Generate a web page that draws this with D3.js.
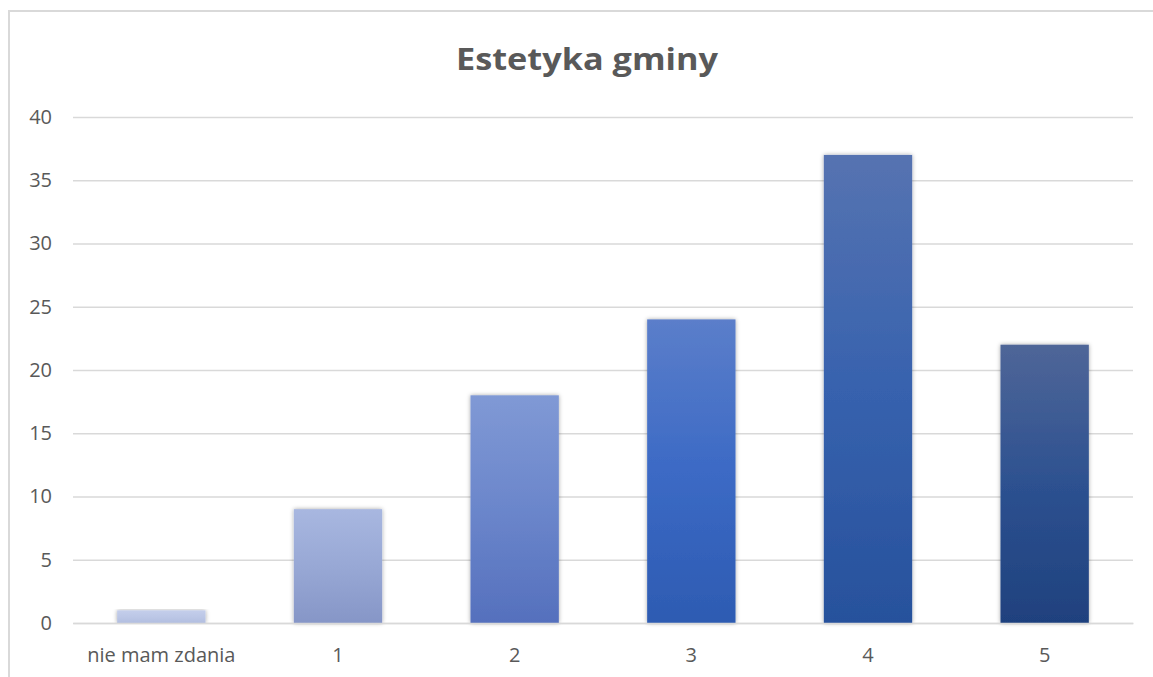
<!DOCTYPE html>
<html><head><meta charset="utf-8">
<script src="https://cdn.jsdelivr.net/npm/d3@7"></script>
<style>body{margin:0;background:#fff}svg{display:block}</style>
</head><body>
<script>
const categories = ["nie mam zdania", "1", "2", "3", "4", "5"];
const values = [1, 9, 18, 24, 37, 22];
const yTicks = [0, 5, 10, 15, 20, 25, 30, 35, 40];
const title = "Estetyka gminy";
const gradTop = ["#c4ceeb", "#a8b7e0", "#8099d5", "#5b7eca", "#5673b1", "#4f6698"];
const gradMid = ["#bcc7e6", "#98a8d5", "#6b86cb", "#3c6ac5", "#3762ae", "#2d5190"];
const gradBot = ["#b2bee0", "#8696c7", "#5570bd", "#2d5bb2", "#27519c", "#1f417e"];

const W = 1153, H = 677;
const svg = d3.select("body").append("svg").attr("width", W).attr("height", H);
const defs = svg.append("defs");
const f = defs.append("filter").attr("id", "sh").attr("x", "-20%").attr("y", "-5%").attr("width", "140%").attr("height", "110%");
f.append("feDropShadow").attr("dx", 0).attr("dy", 0).attr("stdDeviation", 2.2).attr("flood-color", "#000").attr("flood-opacity", 0.35);

categories.forEach((c, i) => {
  const g = defs.append("linearGradient").attr("id", "g" + i).attr("x1", 0).attr("y1", 0).attr("x2", 0).attr("y2", 1);
  g.append("stop").attr("offset", "0%").attr("stop-color", gradTop[i]);
  g.append("stop").attr("offset", "50%").attr("stop-color", gradMid[i]);
  g.append("stop").attr("offset", "100%").attr("stop-color", gradBot[i]);
});

// border
svg.append("rect").attr("x", 9).attr("y", 11).attr("width", W + 10).attr("height", H + 10)
  .attr("fill", "none").attr("stroke", "#d9d9d9").attr("stroke-width", 2);

const x = d3.scaleBand().domain(categories).range([73, 1133]).paddingInner(0.5).paddingOuter(0.25);
const y = d3.scaleLinear().domain([0, 40]).range([623, 117]);

svg.append("text").attr("x", 587).attr("y", 70).attr("text-anchor", "middle")
  .attr("font-family", "'Open Sans', sans-serif").attr("font-weight", "bold").attr("font-size", 31)
  .attr("fill", "#595959").attr("textLength", 262).attr("lengthAdjust", "spacingAndGlyphs").text(title);

const yAxis = svg.append("g").attr("transform", "translate(73,0)")
  .call(d3.axisLeft(y).tickValues(yTicks).tickSize(-1060).tickPadding(21));
yAxis.select(".domain").remove();
yAxis.selectAll("line").attr("stroke", "#d9d9d9").attr("stroke-width", 1.5);
yAxis.selectAll("text").attr("fill", "#595959").attr("font-size", 20).attr("font-family", "'Open Sans', sans-serif");

svg.append("g").selectAll("rect").data(values).join("rect")
  .attr("x", (d, i) => x(categories[i]))
  .attr("y", d => y(d))
  .attr("width", x.bandwidth())
  .attr("height", d => y(0) - y(d))
  .attr("fill", (d, i) => `url(#g${i})`)
  .attr("filter", "url(#sh)");

const xAxis = svg.append("g").attr("transform", "translate(0,623)")
  .call(d3.axisBottom(x).tickSize(0).tickPadding(25));
xAxis.select(".domain").attr("stroke", "#d9d9d9").attr("stroke-width", 1.5);
xAxis.selectAll("text").attr("fill", "#595959").attr("font-size", 20).attr("font-family", "'Open Sans', sans-serif");
</script>
</body></html>
